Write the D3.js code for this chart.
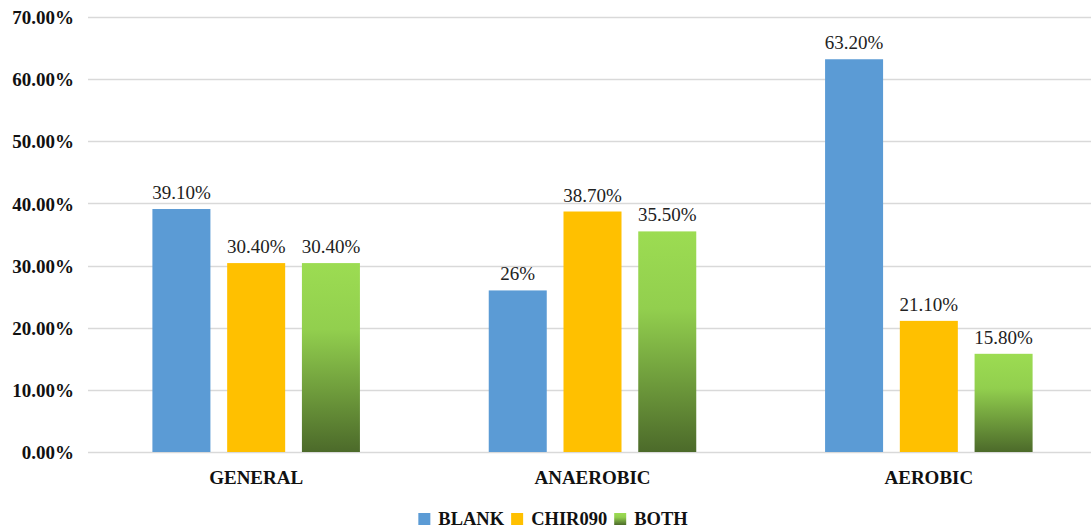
<!DOCTYPE html>
<html>
<head>
<meta charset="utf-8">
<script src="https://cdn.jsdelivr.net/npm/d3@7"></script>
<style>
  html, body { margin: 0; padding: 0; background: #fff; }
  svg { display: block; }
</style>
</head>
<body>
<svg id="chart" width="1091" height="531"></svg>
<script>
// Groups, series and their percentage values
const categories = ["GENERAL", "ANAEROBIC", "AEROBIC"];
const seriesNames = ["BLANK", "CHIR090", "BOTH"];
const blankValues = [39.1, 26, 63.2];
const chirValues = [30.4, 38.7, 21.1];
const bothValues = [30.4, 35.5, 15.8];
const valueLabels = [
  ["39.10%", "30.40%", "30.40%"],
  ["26%", "38.70%", "35.50%"],
  ["63.20%", "21.10%", "15.80%"]
];
const yTicks = [0, 10, 20, 30, 40, 50, 60, 70];

const seriesValues = [blankValues, chirValues, bothValues];
const rows = categories.map((c, i) => ({
  category: c,
  values: seriesNames.map((s, j) => ({ series: s, value: seriesValues[j][i], label: valueLabels[i][j] }))
}));

const svg = d3.select("#chart");
const serif = "'Liberation Serif', 'Times New Roman', serif";

const plot = { left: 88, right: 1097, top: 17, bottom: 452 };

const y = d3.scaleLinear().domain([0, 70]).range([plot.bottom, plot.top]);
const x0 = d3.scaleBand().domain(categories).range([plot.left, plot.right])
  .paddingInner(0.383).paddingOuter(0.1915);
const x1 = d3.scaleBand().domain(seriesNames).range([0, x0.bandwidth()]).paddingInner(0.224).paddingOuter(0);

const colors = { BLANK: "#5B9BD5", CHIR090: "#FFC000", BOTH: "url(#greenGrad)" };

// Vertical green gradient used for the BOTH bars
const defs = svg.append("defs");
const grad = defs.append("linearGradient")
  .attr("id", "greenGrad")
  .attr("x1", 0).attr("y1", 0).attr("x2", 0).attr("y2", 1);
grad.append("stop").attr("offset", "0%").attr("stop-color", "#9CDC52");
grad.append("stop").attr("offset", "35%").attr("stop-color", "#92CF4E");
grad.append("stop").attr("offset", "100%").attr("stop-color", "#4C6A2A");

// Gridlines
svg.append("g")
  .selectAll("line")
  .data(yTicks)
  .join("line")
  .attr("x1", plot.left)
  .attr("x2", 1091)
  .attr("y1", d => Math.round(y(d)) + 0.5)
  .attr("y2", d => Math.round(y(d)) + 0.5)
  .attr("stroke", "#D9D9D9")
  .attr("stroke-width", 1.5);

// Y axis tick labels
const yAxis = d3.axisLeft(y).tickValues(yTicks).tickSize(0).tickPadding(0)
  .tickFormat(d => d3.format(".2f")(d) + "%");
svg.append("g")
  .attr("transform", `translate(74,0)`)
  .call(yAxis)
  .call(g => g.select(".domain").remove())
  .call(g => g.selectAll("text")
    .attr("font-family", serif)
    .attr("font-size", 19)
    .attr("font-weight", "bold")
    .attr("fill", "#111")
    .attr("dy", "0.35em"));

// Bars
const groups = svg.append("g")
  .selectAll("g")
  .data(rows)
  .join("g")
  .attr("transform", d => `translate(${x0(d.category)},0)`);

groups.selectAll("rect")
  .data(d => d.values)
  .join("rect")
  .attr("x", d => x1(d.series))
  .attr("y", d => y(d.value))
  .attr("width", x1.bandwidth())
  .attr("height", d => y(0) - y(d.value))
  .attr("fill", d => colors[d.series]);

// Value labels
groups.selectAll("text")
  .data(d => d.values)
  .join("text")
  .attr("x", d => x1(d.series) + x1.bandwidth() / 2)
  .attr("y", d => y(d.value) - 10)
  .attr("text-anchor", "middle")
  .attr("font-family", serif)
  .attr("font-size", 19)
  .attr("fill", "#222")
  .text(d => d.label);

// Category axis labels
const xAxis = d3.axisBottom(x0).tickSize(0).tickPadding(0);
svg.append("g")
  .attr("transform", `translate(0,${plot.bottom})`)
  .call(xAxis)
  .call(g => g.select(".domain").remove())
  .call(g => g.selectAll("text")
    .attr("font-family", serif)
    .attr("font-size", 19)
    .attr("font-weight", "bold")
    .attr("fill", "#111")
    .attr("dy", 0)
    .attr("y", 32));

// Legend: swatch, text, then the next item, centred under the plot
const legend = svg.append("g");
const li = legend.selectAll("g")
  .data(seriesNames)
  .join("g");
li.append("rect")
  .attr("width", 12).attr("height", 12)
  .attr("fill", d => colors[d]);
li.append("text")
  .attr("x", 20)
  .attr("y", 12)
  .attr("font-family", serif)
  .attr("font-size", 18.5)
  .attr("font-weight", "bold")
  .attr("fill", "#111")
  .text(d => d);
let cursor = 0;
li.each(function () {
  const w = d3.select(this).select("text").node().getComputedTextLength();
  d3.select(this).attr("data-offset", cursor);
  cursor += 20 + w + 7;
});
const totalW = cursor - 7;
const startX = 553 - totalW / 2;
li.attr("transform", function () {
  return `translate(${startX + +this.getAttribute("data-offset")},513)`;
});
</script>
</body>
</html>
